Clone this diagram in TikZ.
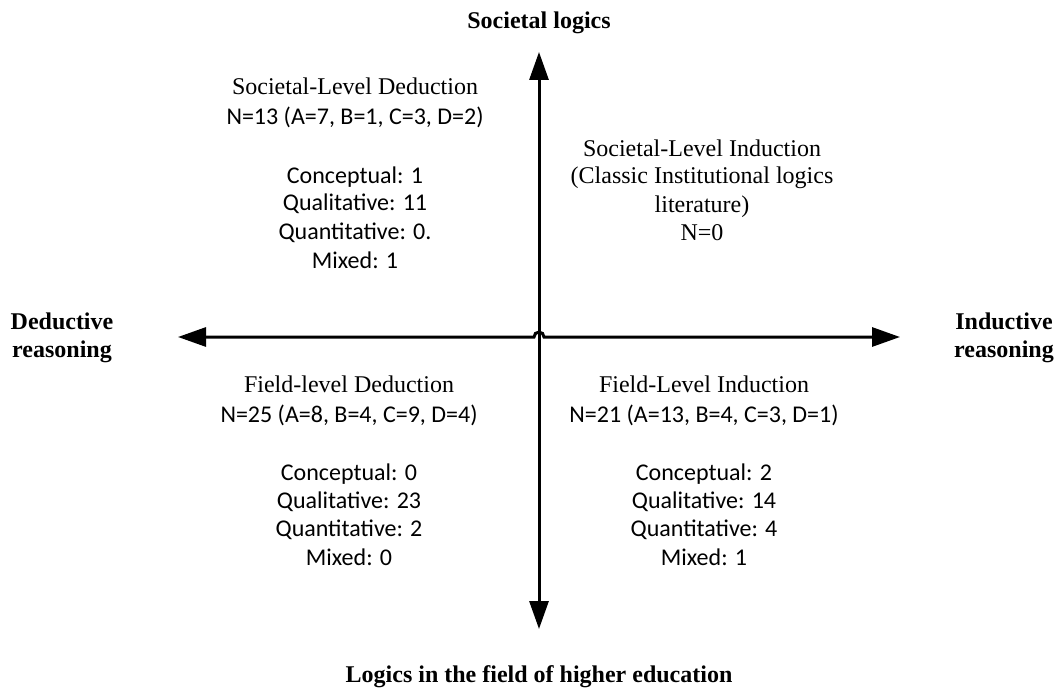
\documentclass[tikz,border=0pt]{standalone}
\usepackage{fontspec}
\setmainfont{Liberation Serif}
\newfontfamily\calibfont{Carlito}
\usetikzlibrary{arrows.meta}
\begin{document}
\begin{tikzpicture}[x=1pt,y=-1pt,
  axis/.style={line width=3pt,{Triangle[length=28pt,width=19pt]}-{Triangle[length=28pt,width=19pt]}},
  ttl/.style={anchor=base,inner sep=0pt,font=\fontsize{24}{28}\selectfont\bfseries},
  tm/.style={anchor=base,inner sep=0pt,font=\fontsize{24}{28}\selectfont},
  cb/.style={anchor=base,inner sep=0pt,font=\fontsize{24}{28}\calibfont\selectfont}]
\useasboundingbox (0,0) rectangle (1058,690);
% axes
\coordinate (T) at (539,52);
\coordinate (B) at (539,629);
\coordinate (L) at (178,337);
\coordinate (R) at (900,337);
\coordinate (HL) at (534,337);
\draw[axis] (T) -- (B);
\draw[axis] (L) -- (HL) arc[start angle=180,end angle=0,radius=5pt] -- (R);
% axis titles
\node[ttl] (top) at (539,29) {Societal logics};
\node[ttl] (bot) at (539,682) {Logics in the field of higher education};
\node[ttl] (ded1) at (62,329) {Deductive};
\node[ttl] (ded2) at (62,357) {reasoning};
\node[ttl] (ind1) at (1004,329) {Inductive};
\node[ttl] (ind2) at (1004,357) {reasoning};
% top-left
\node[tm] (tl1) at (355,95) {Societal-Level Deduction};
\node[cb] (tl2) at (355,125) {N=13 (A=7, B=1, C=3, D=2)};
\node[cb] (tl3) at (355,183) {Conceptual: 1};
\node[cb] (tl4) at (355,211) {Qualitative: 11};
\node[cb] (tl5) at (355,239) {Quantitative: 0.};
\node[cb] (tl6) at (355,268) {Mixed: 1};
% top-right
\node[tm] (tr1) at (702,157) {Societal-Level Induction};
\node[tm] (tr2) at (702,184) {(Classic Institutional logics};
\node[tm] (tr3) at (702,212) {literature)};
\node[tm] (tr4) at (702,240) {N=0};
% bottom-left
\node[tm] (bl1) at (349,392) {Field-level Deduction};
\node[cb] (bl2) at (349,422) {N=25 (A=8, B=4, C=9, D=4)};
\node[cb] (bl3) at (349,480) {Conceptual: 0};
\node[cb] (bl4) at (349,508) {Qualitative: 23};
\node[cb] (bl5) at (349,536) {Quantitative: 2};
\node[cb] (bl6) at (349,565) {Mixed: 0};
% bottom-right
\node[tm] (br1) at (704,392) {Field-Level Induction};
\node[cb] (br2) at (704,422) {N=21 (A=13, B=4, C=3, D=1)};
\node[cb] (br3) at (704,480) {Conceptual: 2};
\node[cb] (br4) at (704,508) {Qualitative: 14};
\node[cb] (br5) at (704,536) {Quantitative: 4};
\node[cb] (br6) at (704,565) {Mixed: 1};
\end{tikzpicture}
\end{document}
